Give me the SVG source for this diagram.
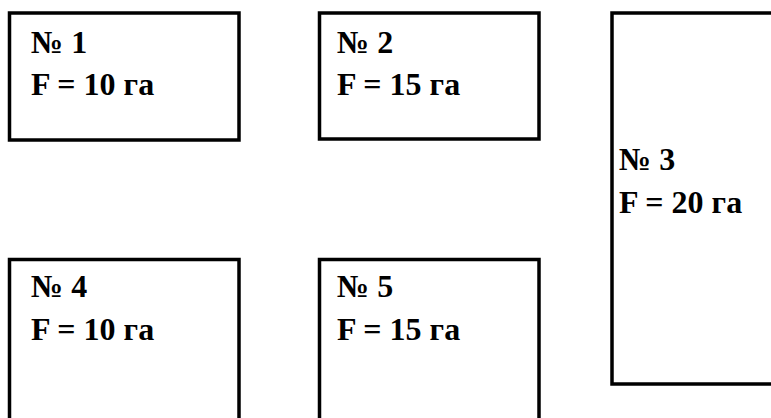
<svg xmlns="http://www.w3.org/2000/svg" width="771" height="418" viewBox="0 0 771 418">
<style>
.box{fill:#fff;stroke:#000;stroke-width:3.5}
.t{font-family:"Liberation Serif","Times New Roman",serif;font-weight:bold;font-size:32px;fill:#000}
</style>
<rect width="771" height="418" fill="#fff"/>
<g id="plot1">
<rect class="box" x="9.5" y="13" width="229.5" height="127"/>
<text class="t" x="31" y="53">№ 1</text>
<text class="t" x="31" y="95">F = 10 га</text>
</g>
<g id="plot2">
<rect class="box" x="319.5" y="13" width="219.5" height="126"/>
<text class="t" x="337" y="53">№ 2</text>
<text class="t" x="337" y="95">F = 15 га</text>
</g>
<g id="plot3">
<rect class="box" x="612" y="13" width="170" height="371"/>
<text class="t" x="619" y="170">№ 3</text>
<text class="t" x="619" y="213">F = 20 га</text>
</g>
<g id="plot4">
<rect class="box" x="9.5" y="259.5" width="229.5" height="170"/>
<text class="t" x="31" y="297">№ 4</text>
<text class="t" x="31" y="340">F = 10 га</text>
</g>
<g id="plot5">
<rect class="box" x="319.5" y="259.5" width="219.5" height="170"/>
<text class="t" x="337" y="297">№ 5</text>
<text class="t" x="337" y="340">F = 15 га</text>
</g>
<g id="connectors"/>
</svg>
